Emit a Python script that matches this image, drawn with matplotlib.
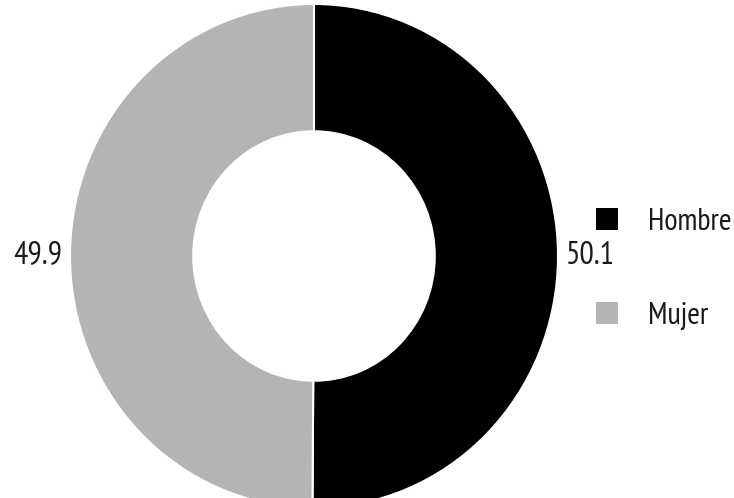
import matplotlib
matplotlib.use("Agg")
import matplotlib.pyplot as plt
from matplotlib.patches import Rectangle
from matplotlib import font_manager as fm

categories = ["Hombre", "Mujer"]
values = [50.1, 49.9]
labels = ["50.1", "49.9"]
colors = ["#000000", "#b4b4b4"]

available = {f.name for f in fm.fontManager.ttflist}
prefs = ['PT Sans Narrow', 'Open Sans Condensed', 'Roboto Condensed', 'Fira Sans Condensed',
         'Archivo Narrow', 'Encode Sans Condensed', 'Asap Condensed', 'IBM Plex Sans Condensed',
         'Liberation Sans Narrow']
fam = next((p for p in prefs if p in available), None)
if fam:
    plt.rcParams['font.family'] = [fam, 'DejaVu Sans']
else:
    plt.rcParams['font.family'] = ['DejaVu Sans']
    plt.rcParams['font.stretch'] = 'condensed'

W, H = 734, 498
fig = plt.figure(figsize=(W/100, H/100), dpi=100)
cx, cy, rx, ry = 314, 256, 244, 252
ax = fig.add_axes([(cx-rx)/W, (H-cy-ry)/H, 2*rx/W, 2*ry/H])
wedges, _ = ax.pie(values, colors=colors, startangle=90, counterclock=False,
                   radius=1.0, wedgeprops=dict(width=0.505, edgecolor='white', linewidth=1.5))
ax.set_xlim(-1, 1); ax.set_ylim(-1, 1)
ax.set_aspect('auto')
ax.axis('off')

txtc = '#1a1a1a'
fig.text(590/W, 1-256/H, labels[0], fontsize=23, ha='center', va='center', color=txtc)
fig.text(38/W, 1-255/H, labels[1], fontsize=23, ha='center', va='center', color=txtc)

# legend
row_y = [219, 313]
sq = 22
for cat, col, yc in zip(categories, colors, row_y):
    fig.add_artist(Rectangle(((607 - sq/2)/W, 1 - (yc + sq/2)/H), sq/W, sq/H,
                             transform=fig.transFigure, facecolor=col, edgecolor='none'))
    fig.text(648/W, 1 - yc/H, cat, fontsize=22, ha='left', va='center_baseline', color=txtc)

fig.savefig("out.png", dpi=100)
